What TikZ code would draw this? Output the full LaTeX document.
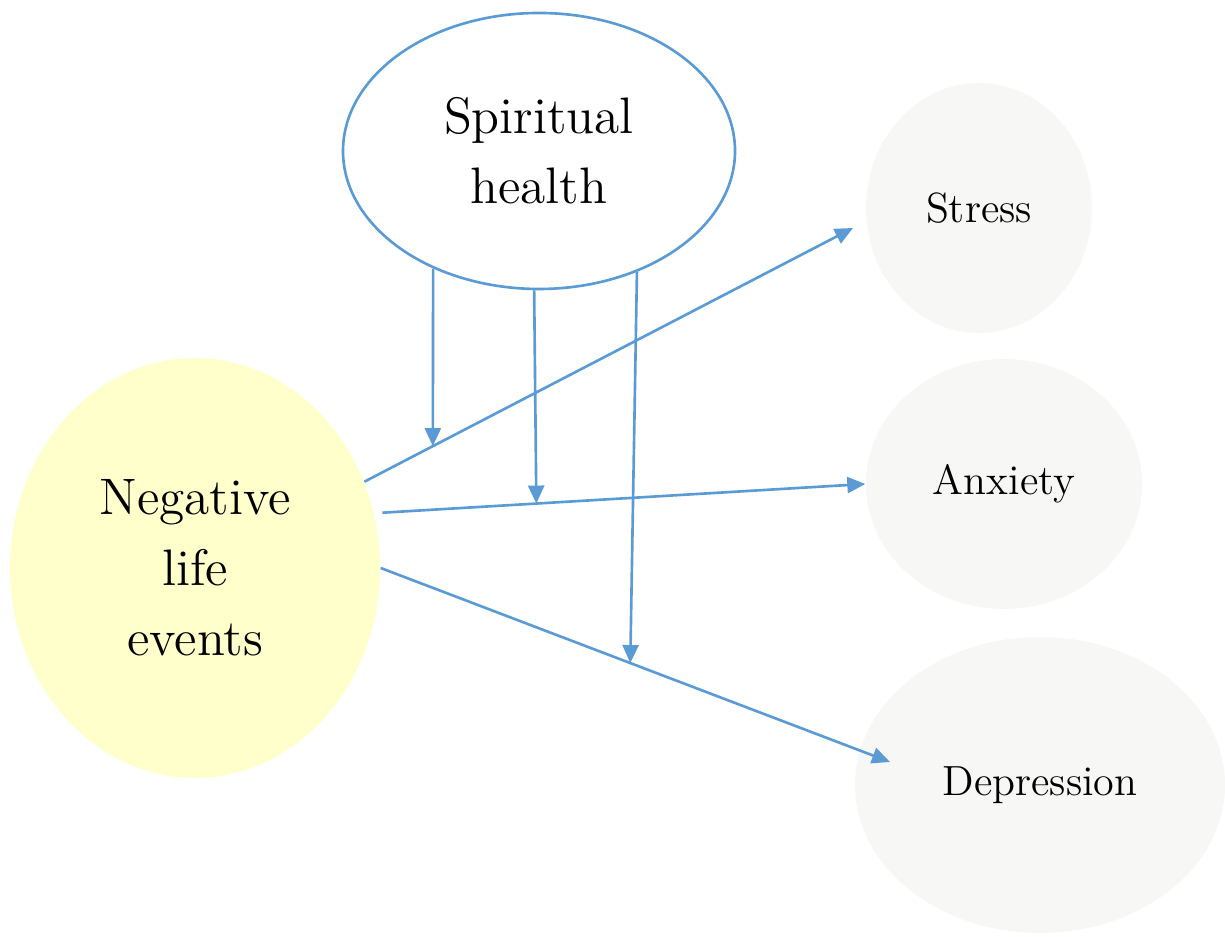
\documentclass[tikz,border=0pt]{standalone}
\usepackage{tikz}
\usetikzlibrary{shapes.geometric, arrows.meta}
\definecolor{lineblue}{HTML}{5B9BD5}
\definecolor{eventyellow}{HTML}{FFFFCC}
\definecolor{outgray}{HTML}{F7F7F5}
\tikzstyle{arrow} = [draw=lineblue, line width=0.75pt, -{Triangle[length=0.18cm,width=0.16cm]}]
\tikzset{oval/.style={ellipse, inner sep=0pt}}
\tikzset{bigtext/.style={font=\fontsize{14.6}{20}\selectfont, align=center}}
\tikzset{smalltext/.style={font=\fontsize{12}{14}\selectfont}}

\begin{document}
\begin{tikzpicture}
\useasboundingbox (0,0) rectangle (12.25,9.36);

\node[oval, draw=lineblue, line width=0.75pt, fill=white, minimum width=3.92cm, minimum height=2.76cm, bigtext] (spirit) at (5.39,7.85) {Spiritual\\health};
\node[oval, fill=eventyellow, minimum width=3.70cm, minimum height=4.20cm, bigtext] (events) at (1.95,3.68) {Negative\\life\\events};

% outcomes
\node[oval, fill=outgray, minimum width=2.26cm, minimum height=2.50cm, smalltext] (stress) at (9.79,7.28) {Stress};
\node[oval, fill=outgray, minimum width=2.76cm, minimum height=2.50cm, smalltext] (anxiety) at (10.04,4.52) {Anxiety};
\node[oval, fill=outgray, minimum width=3.70cm, minimum height=2.96cm, smalltext] (depress) at (10.40,1.51) {Depression};

\coordinate (stressend) at (8.53,7.08);
\coordinate (depressend) at (8.90,1.74);

\draw[arrow] (events.27) -- coordinate[pos=0.14] (mod1) (stressend);
\draw[arrow, shorten <=0.08cm] (events.17) -- coordinate[pos=0.33] (mod2) (anxiety.west);
\draw[arrow] (events.east) -- coordinate[pos=0.49] (mod3) (depressend);

% moderation
\draw[arrow] (spirit.228) -- (mod1);
\draw[arrow] (spirit.268) -- (mod2);
\draw[arrow] (spirit.309) -- (mod3);
\end{tikzpicture}
\end{document}
